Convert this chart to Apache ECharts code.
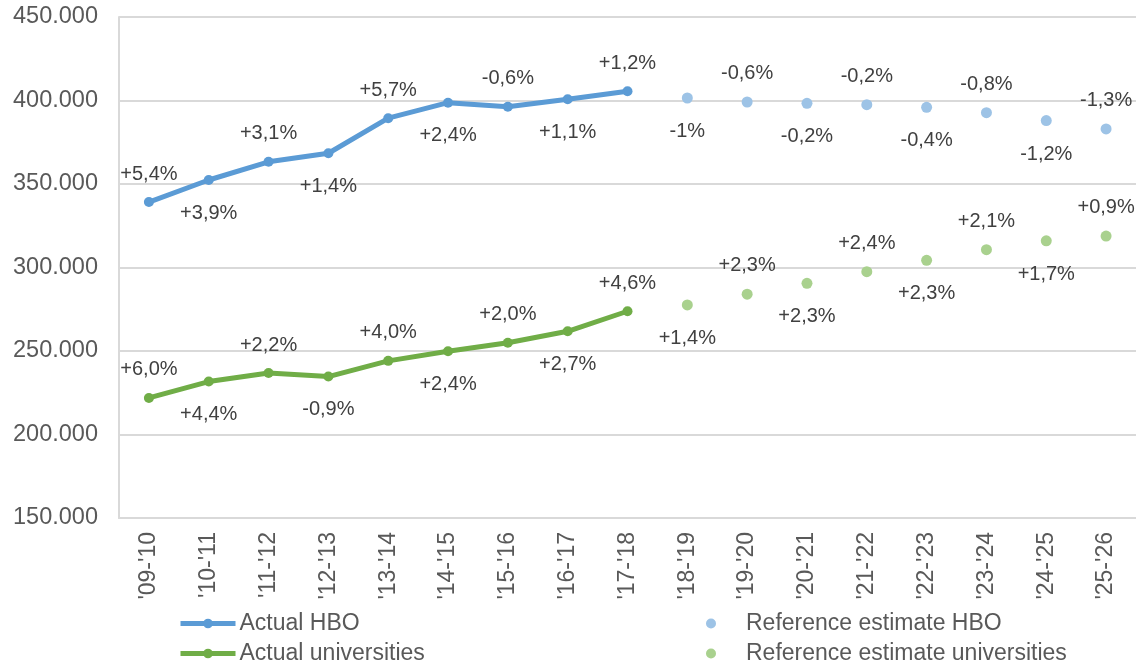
<!DOCTYPE html>
<html>
<head>
<meta charset="utf-8">
<script src="https://cdn.jsdelivr.net/npm/echarts@6/dist/echarts.min.js"></script>
<style>
  html, body { margin: 0; padding: 0; background: #fff; }
  #chart { width: 1136px; height: 666px; }
</style>
</head>
<body>
<div id="chart"></div>
<script>
const years = ["'09-'10", "'10-'11", "'11-'12", "'12-'13", "'13-'14", "'14-'15", "'15-'16", "'16-'17", "'17-'18",
  "'18-'19", "'19-'20", "'20-'21", "'21-'22", "'22-'23", "'23-'24", "'24-'25", "'25-'26"];
// actual numbers up to '17-'18, estimates after that
const hboActual = [339200, 352400, 363300, 368400, 389400, 398700, 396300, 400700, 405500];
const hboEstimate = [401500, 399100, 398300, 397500, 395900, 392700, 388000, 383000];
const uniActual = [221900, 231700, 236800, 234700, 244100, 249900, 254900, 261800, 273800];
const uniEstimate = [277600, 284000, 290500, 297500, 304300, 310700, 316000, 318800];
const hboGrowth = ["+5,4%", "+3,9%", "+3,1%", "+1,4%", "+5,7%", "+2,4%", "-0,6%", "+1,1%", "+1,2%",
  "-1%", "-0,6%", "-0,2%", "-0,2%", "-0,4%", "-0,8%", "-1,2%", "-1,3%"];
const uniGrowth = ["+6,0%", "+4,4%", "+2,2%", "-0,9%", "+4,0%", "+2,4%", "+2,0%", "+2,7%", "+4,6%",
  "+1,4%", "+2,3%", "+2,3%", "+2,4%", "+2,3%", "+2,1%", "+1,7%", "+0,9%"];
const yTicks = [150000, 200000, 250000, 300000, 350000, 400000, 450000];

const FONT = '"Liberation Sans", Arial, sans-serif';

// put actual and estimate values on the full category axis, label above/below alternately
function build(vals, offset, growth) {
  return years.map((y, i) => {
    const k = i - offset;
    if (k < 0 || k >= vals.length) return null;
    const up = i % 2 === 0;
    return {
      value: vals[k],
      label: { position: up ? 'top' : 'bottom', distance: up ? 13 : 18, formatter: growth[i] }
    };
  });
}

const labelStyle = {
  show: true,
  fontFamily: FONT,
  fontSize: 20,
  color: '#404040'
};

const legendText = { fontFamily: FONT, fontSize: 23, color: '#595959' };
function lineLegend(name, top) {
  return {
    left: 178, top: top, padding: 0, itemWidth: 55, itemHeight: 12,
    lineStyle: { width: 5 },
    data: [name],
    textStyle: Object.assign({ padding: [0, 0, 0, -1] }, legendText)
  };
}
function dotLegend(name, top) {
  return {
    left: 706, top: top, padding: 0, icon: 'circle', itemWidth: 10, itemHeight: 10,
    data: [name],
    textStyle: Object.assign({ padding: [0, 0, 0, 25] }, legendText)
  };
}

const chart = echarts.init(document.getElementById('chart'));
chart.setOption({
  animation: false,
  backgroundColor: '#fff',
  textStyle: { fontFamily: FONT },
  grid: { left: 119, right: 0, top: 17, bottom: 148, containLabel: false },
  legend: [
    lineLegend('Actual HBO', 612),
    lineLegend('Actual universities', 642),
    dotLegend('Reference estimate HBO', 612),
    dotLegend('Reference estimate universities', 642)
  ],
  xAxis: {
    type: 'category',
    data: years,
    boundaryGap: true,
    axisLine: { show: true, lineStyle: { color: '#d9d9d9', width: 2 } },
    axisTick: { show: false },
    axisLabel: {
      rotate: 90,
      interval: 0,
      margin: 14,
      fontFamily: FONT,
      fontSize: 23,
      color: '#595959'
    }
  },
  yAxis: {
    type: 'value',
    min: yTicks[0],
    max: yTicks[yTicks.length - 1],
    interval: 50000,
    axisLine: { show: true, lineStyle: { color: '#d9d9d9', width: 2 } },
    axisTick: { show: false },
    splitLine: { lineStyle: { color: '#d9d9d9', width: 2 } },
    axisLabel: {
      margin: 21,
      fontFamily: FONT,
      fontSize: 23.5,
      color: '#595959',
      formatter: v => (v / 1000).toFixed(0) + '.000'
    }
  },
  series: [
    {
      name: 'Actual HBO',
      type: 'line',
      data: build(hboActual, 0, hboGrowth),
      color: '#5B9BD5',
      lineStyle: { width: 5 },
      symbol: 'circle',
      symbolSize: 10,
      label: labelStyle
    },
    {
      name: 'Actual universities',
      type: 'line',
      data: build(uniActual, 0, uniGrowth),
      color: '#70AD47',
      lineStyle: { width: 5 },
      symbol: 'circle',
      symbolSize: 10,
      label: labelStyle
    },
    {
      name: 'Reference estimate HBO',
      type: 'scatter',
      data: build(hboEstimate, hboActual.length, hboGrowth),
      itemStyle: { color: '#9DC3E6', opacity: 1 },
      symbolSize: 11,
      label: labelStyle
    },
    {
      name: 'Reference estimate universities',
      type: 'scatter',
      data: build(uniEstimate, uniActual.length, uniGrowth),
      itemStyle: { color: '#A9D18E', opacity: 1 },
      symbolSize: 11,
      label: labelStyle
    }
  ]
});
</script>
</body>
</html>
